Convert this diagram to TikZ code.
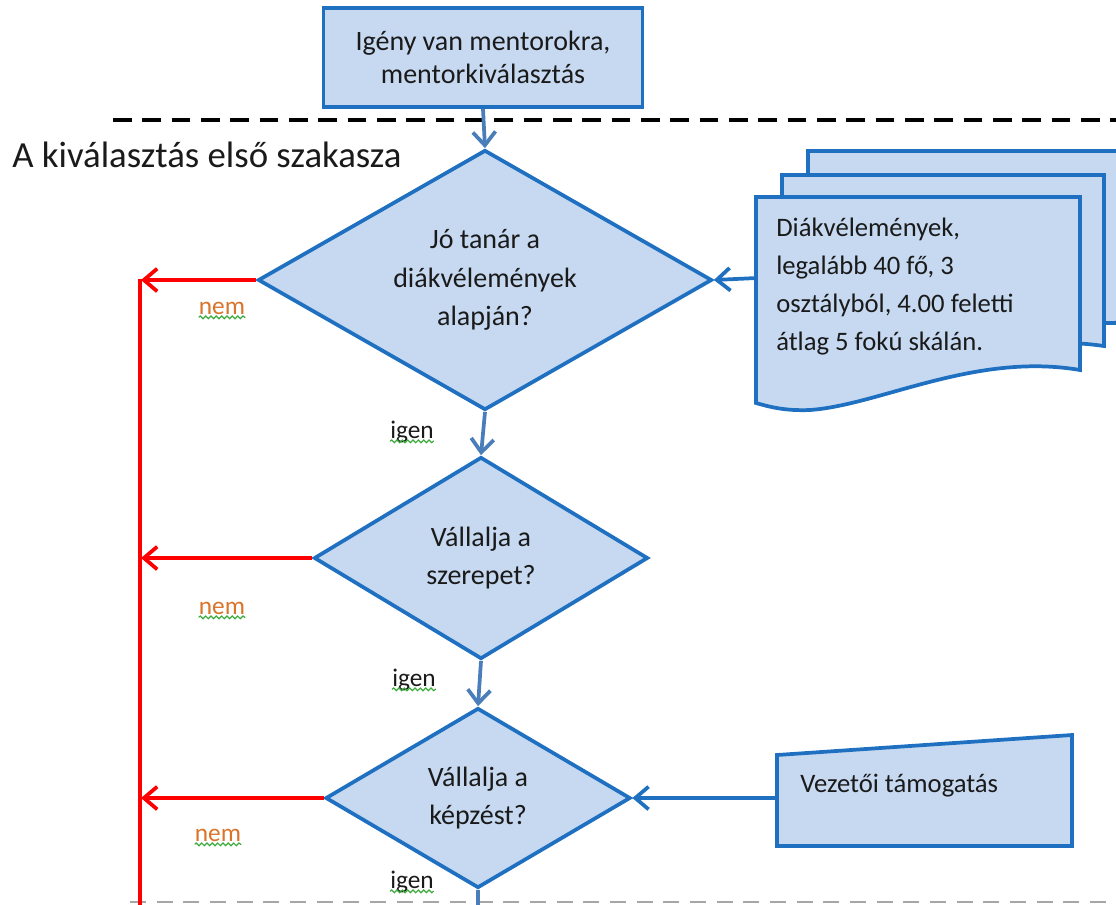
\documentclass[tikz,border=0pt]{standalone}
\usepackage{fontspec}
\setmainfont{Carlito}
\usetikzlibrary{shapes.geometric,arrows.meta,decorations.pathmorphing}
\definecolor{fillb}{HTML}{C6D9F1}
\definecolor{edgeb}{HTML}{1F70C1}
\definecolor{conb}{HTML}{4A7EBB}
\definecolor{nemc}{HTML}{D9742B}
\definecolor{wavyc}{HTML}{3DAA3D}
\definecolor{txt}{HTML}{1A1A1A}
\begin{document}
\begin{tikzpicture}[x=0.75pt,y=-0.75pt,
  shapeline/.style={draw=edgeb,line width=2.8pt,fill=fillb},
  dia/.style={shapeline,diamond,inner sep=0pt,align=center,text=txt,font=\fontsize{21}{29}\selectfont},
  boxnode/.style={shapeline,rectangle,inner sep=0pt,align=center,text=txt,font=\fontsize{21}{25}\selectfont},
  flow/.style={draw=conb,line width=2.8pt,-{Straight Barb[length=10pt,width=17pt,line width=2.8pt]}},
  inflow/.style={draw=edgeb,line width=2.8pt,-{Straight Barb[length=10pt,width=17pt,line width=2.8pt]}},
  noflow/.style={draw=red,line width=2.8pt,-{Straight Barb[length=10pt,width=17pt,line width=2.8pt]}},
  nemlabel/.style={text=nemc,inner sep=0pt,font=\fontsize{19}{22}\selectfont},
  igenlabel/.style={text=txt,inner sep=0pt,font=\fontsize{19}{22}\selectfont},
  wavyline/.style={draw=wavyc,line width=0.9pt,decorate,decoration={snake,amplitude=1pt,segment length=4pt}},
  bodytext/.style={text=txt,inner sep=0pt,align=left,font=\fontsize{20}{28.5}\selectfont}
]
\useasboundingbox (0,0) rectangle (1116,904);
\clip (0,0) rectangle (1116,904);

% separators
\draw[black,line width=2.8pt,dash pattern=on 14pt off 8pt] (113,120) -- (1116,120);
\draw[gray!70,line width=1.8pt,dash pattern=on 12pt off 8pt] (130,902) -- (1116,902);

% heading
\node[anchor=base west,inner sep=0pt,text=txt,font=\fontsize{27.6}{32}\selectfont] (head) at (12,167) {A kiválasztás első szakasza};

% top box
\node[boxnode,minimum width=319*0.75pt,minimum height=99*0.75pt] (start) at (483,57.5) {Igény van mentorokra,\\mentorkiválasztás};

% diamonds
\node[dia,aspect=1.746,minimum width=454*0.75pt,minimum height=260*0.75pt] (d1) at (485,280) {Jó tanár a\\diákvélemények\\alapján?};
\node[dia,aspect=1.65,minimum width=334*0.75pt,minimum height=202*0.75pt] (d2) at (481,558) {Vállalja a\\szerepet?};
\node[dia,aspect=1.69,minimum width=305*0.75pt,minimum height=180*0.75pt] (d3) at (478,798) {Vállalja a\\képzést?};

% document stack
\draw[shapeline] (808,151) -- (1140,151) -- (1140,300) -- (1116,323) -- (1104,323) -- (808,323) -- cycle;
\draw[shapeline] (782,175) -- (1104,175) -- (1104,346) .. controls (990,330) and (910,375) .. (830,378) -- (782,376) -- cycle;
\draw[shapeline] (756,197) -- (1080,197) -- (1080,370) .. controls (975,352) and (880,405) .. (810,410) .. controls (785,411) and (770,407) .. (756,403) -- cycle;
\node[bodytext,anchor=north west] (doc) at (776,218) {Diákvélemények,\\legalább 40 fő, 3\\osztályból, 4.00 feletti\\átlag 5 fokú skálán.};
\coordinate (docin) at (757,278);

% manual input
\draw[shapeline] (777,755) -- (1072,735) -- (1072,846) -- (777,846) -- cycle;
\node[bodytext,anchor=west] (vez) at (800,786) {Vezetői támogatás};
\coordinate (vezin) at (777,798);

% flow connectors
\draw[flow] (start.south) -- (d1.north);
\draw[flow] (d1.south) -- (d2.north);
\draw[flow] (d2.south) -- (d3.north);
\coordinate (bottomend) at (478,915);
\draw[draw=conb,line width=2.8pt] (d3.south) -- (bottomend);
\draw[inflow] (docin) -- (d1.east);
\draw[inflow] (vezin) -- (d3.east);

% no branch
\coordinate (n1) at (141,280);
\coordinate (n2) at (141,558);
\coordinate (n3) at (141,798);
\coordinate (rtop) at (140,279);
\coordinate (rbot) at (140,915);
\draw[red,line width=2.8pt] (rtop) -- (rbot);
\draw[noflow] (d1.west) -- (n1);
\draw[noflow] (d2.west) -- (n2);
\draw[noflow] (d3.west) -- (n3);

% labels
\node[nemlabel,anchor=base] (l1) at (222,314) {nem};
\node[nemlabel,anchor=base] (l2) at (222,614) {nem};
\node[nemlabel,anchor=base] (l3) at (218,841) {nem};
\node[igenlabel,anchor=base] (g1) at (412,438) {igen};
\node[igenlabel,anchor=base] (g2) at (414,686) {igen};
\node[igenlabel,anchor=base] (g3) at (412,888) {igen};
\foreach \l in {l1,l2,l3,g1,g2,g3}{
  \draw[wavyline] ([yshift=-2.5pt]\l.base west) -- ([yshift=-2.5pt]\l.base east);
}
\end{tikzpicture}
\end{document}
